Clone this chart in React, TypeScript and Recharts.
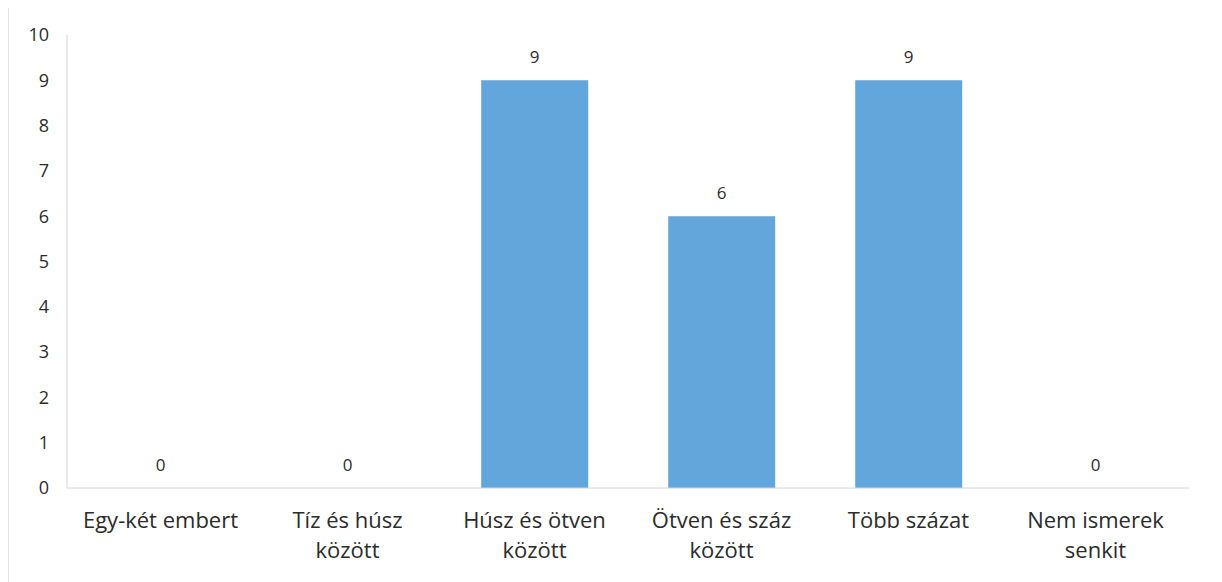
import { ComposedChart, Bar, Line, XAxis, YAxis, LabelList } from "recharts";

// kategóriák (sortörés "\n"-nel, ahogy az eredetin)
const categories = [
  "Egy-két embert",
  "Tíz és húsz\nközött",
  "Húsz és ötven\nközött",
  "Ötven és száz\nközött",
  "Több százat",
  "Nem ismerek\nsenkit",
];

const counts = [0, 0, 9, 6, 9, 0];

const yTicks = [0, 1, 2, 3, 4, 5, 6, 7, 8, 9, 10];

const data = categories.map((name, i) => ({ name, value: counts[i] }));

const FONT = "'Open Sans', 'DejaVu Sans', sans-serif";
const BAR_COLOR = "#62a6dc";
const TEXT_COLOR = "#2b2b2b";
const AXIS_COLOR = "#d4d4d4";

// több soros x tengely felirat
const CategoryTick = ({ x, y, payload }: any) => {
  const lines = String(payload.value).split("\n");
  return (
    <text
      x={x}
      y={y}
      textAnchor="middle"
      fontFamily={FONT}
      fontSize={22}
      fill={TEXT_COLOR}
    >
      {lines.map((line: string, i: number) => (
        <tspan key={i} x={x} dy={i === 0 ? 32 : 30}>
          {line}
        </tspan>
      ))}
    </text>
  );
};

export default function App() {
  return (
    <div
      style={{
        width: 1210,
        height: 580,
        marginTop: -3,
        border: "1px solid #e2e2e2",
        borderBottom: "none",
        boxSizing: "border-box",
        background: "#fff",
      }}
    >
      <ComposedChart
        width={1208}
        height={574}
        data={data}
        margin={{ top: 29, right: 28, left: 8, bottom: 62 }}
        barCategoryGap="21.5%"
      >
        <YAxis
          domain={[0, 10]}
          ticks={yTicks}
          interval={0}
          width={50}
          tickLine={false}
          tickMargin={12}
          axisLine={{ stroke: AXIS_COLOR }}
          tick={{ fontFamily: FONT, fontSize: 18, fill: TEXT_COLOR }}
        />
        <XAxis
          dataKey="name"
          interval={0}
          tickLine={false}
          axisLine={{ stroke: AXIS_COLOR }}
          tick={<CategoryTick />}
        />
        <Bar dataKey="value" fill={BAR_COLOR} isAnimationActive={false} />
        {/* láthatatlan vonal csak a címkékhez, hogy a 0 értékek is kiíródjanak */}
        <Line
          dataKey="value"
          stroke="none"
          dot={false}
          activeDot={false}
          isAnimationActive={false}
        >
          <LabelList
            dataKey="value"
            position="top"
            offset={17}
            style={{ fontFamily: FONT, fontSize: 17, fill: TEXT_COLOR }}
          />
        </Line>
      </ComposedChart>
    </div>
  );
}
